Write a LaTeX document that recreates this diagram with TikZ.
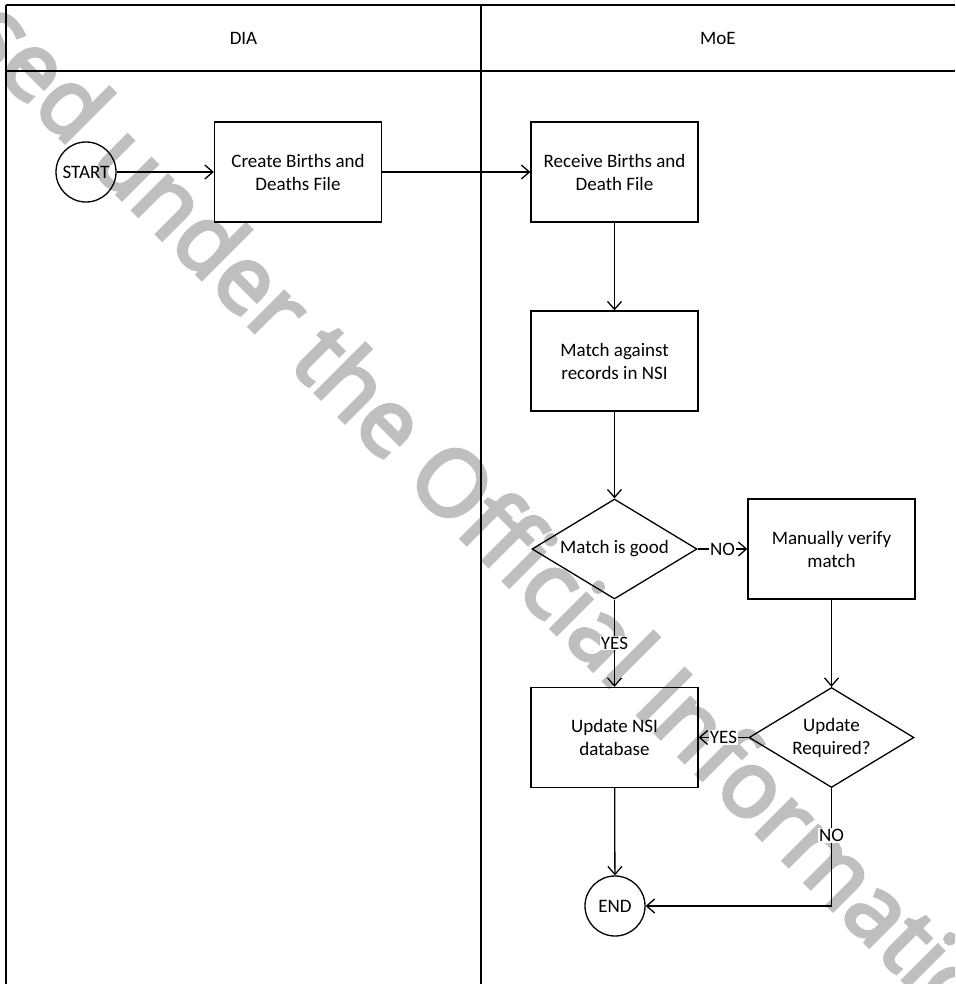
\documentclass[tikz,border=0pt]{standalone}
\usepackage{fontspec}
\setmainfont{Carlito}
\newfontfamily\stampfont[FakeBold=4]{Open Sans}
\usetikzlibrary{shapes.geometric}
\usetikzlibrary{arrows.meta}
\usetikzlibrary{positioning}
\definecolor{stamp-grey}{RGB}{191, 191, 191}

\begin{document}
\begin{tikzpicture}[x=1pt, y=-1pt,
        every node/.style={font=\fontsize{19}{23}\selectfont, align=center},
        terminal/.style={circle, draw, line width=1.3pt, minimum size=60pt, inner sep=0pt},
        process/.style={rectangle, draw, line width=1.3pt, minimum width=167pt, minimum height=100pt},
        decision/.style={diamond, draw, line width=1.3pt, aspect=1.65, minimum width=165pt, minimum height=100pt, inner sep=0pt},
        flow/.style={line width=1.3pt, -{Straight Barb[length=8pt, width=14pt]}},
        answer/.style={fill=white, inner sep=1pt},
        lane/.style={line width=2pt}]
                \useasboundingbox (0, 0) rectangle (955, 984);
                % watermark behind everything
                \begin{scope}
                    \clip (0, 0) rectangle (955, 984);
                    \node[rotate=-45, anchor=mid, text=stamp-grey, font=\stampfont\fontsize{92}{92}\selectfont] (stamp) at (453, 527) {Released under the Official Information Act};
                \end{scope}
                % swimlanes
                \draw[lane] (6, 5) -- (955, 5);
                \draw[lane] (6, 71) -- (955, 71);
                \draw[lane] (6, 5) -- (6, 984);
                \draw[lane] (481, 5) -- (481, 984);
                \node (dia) at (243.5, 38) {DIA};
                \node (moe) at (718, 38) {MoE};
                % steps
                \node[terminal] (start) at (86, 172) {START};
                \node[process] (create) at (298, 172) {Create Births and\\Deaths File};
                \node[process] (receive) at (614.5, 172) {Receive Births and\\Death File};
                \node[process] (matchrec) at (614.5, 361) {Match against\\records in NSI};
                \node[decision] (goodq) at (614.5, 549) {Match is good};
                \node[process] (manual) at (831.5, 549) {Manually verify\\match};
                \node[process] (update) at (614.5, 737.5) {Update NSI\\database};
                \node[decision] (requiredq) at (831.5, 737.5) {Update\\Required?};
                \node[terminal] (finish) at (615, 906) {END};
                % connectors
                \draw[flow] (start) -- (create);
                \draw[flow] (create) -- (receive);
                \draw[flow] (receive) -- (matchrec);
                \draw[flow] (matchrec) -- (goodq);
                \draw[flow] (goodq) -- node[answer]{NO} (manual);
                \draw[flow] (goodq) -- node[answer]{YES} (update);
                \draw[flow] (manual) -- (requiredq);
                \draw[flow] (requiredq) -- node[answer]{YES} (update);
                \draw[flow] (update) -- (finish);
                \draw[flow] (requiredq) |- node[answer, pos=0.2]{NO} (finish);
            \end{tikzpicture}
\end{document}
